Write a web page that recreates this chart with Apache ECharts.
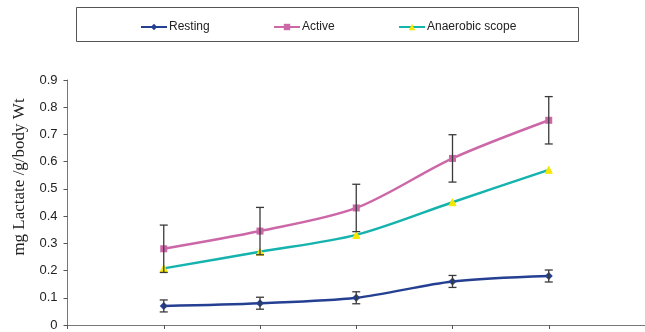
<!DOCTYPE html>
<html><head><meta charset="utf-8">
<script src="https://cdn.jsdelivr.net/npm/echarts@6/dist/echarts.min.js"></script>
<style>html,body{margin:0;padding:0;background:#fff}#c{width:645px;height:332px}</style>
</head><body><div id="c"></div>
<script>
var xPos = [1, 2, 3, 4, 5];
var resting = [0.07, 0.08, 0.10, 0.16, 0.18];
var restingErr = [0.022, 0.022, 0.022, 0.022, 0.022];
var active = [0.28, 0.345, 0.43, 0.612, 0.752];
var activeErr = [0.087, 0.087, 0.087, 0.087, 0.087];
var anaerobic = [0.208, 0.269, 0.331, 0.451, 0.57];
var yTicks = [0, 0.1, 0.2, 0.3, 0.4, 0.5, 0.6, 0.7, 0.8, 0.9];
var seriesNames = ['Resting', 'Active', 'Anaerobic scope'];
var yTitle = 'mg Lactate /g/body Wt';

function pairs(v){ return v.map(function(y,i){ return [xPos[i], y]; }); }
function errData(v,e){ return v.map(function(y,i){ return [xPos[i], y-e[i], y+e[i]]; }); }

function errRender(params, api){
  var x = api.value(0);
  var lo = api.coord([x, api.value(1)]);
  var hi = api.coord([x, api.value(2)]);
  var hw = 4;
  var st = {stroke:'#3a3a3a', lineWidth:1.3};
  return {type:'group', children:[
    {type:'line', shape:{x1:lo[0],y1:lo[1],x2:hi[0],y2:hi[1]}, style:st},
    {type:'line', shape:{x1:lo[0]-hw,y1:lo[1],x2:lo[0]+hw,y2:lo[1]}, style:st},
    {type:'line', shape:{x1:hi[0]-hw,y1:hi[1],x2:hi[0]+hw,y2:hi[1]}, style:st}
  ]};
}
function mkLegend(name, left){
  return {left:left, top:16, itemWidth:26, itemHeight:8,
    textStyle:{fontSize:12, color:'#222', padding:[0,0,0,-3]}, data:[name]};
}

var chart = echarts.init(document.getElementById('c'), null, {renderer:'canvas'});
chart.setOption({
  animation:false,
  textStyle:{fontFamily:'Liberation Sans, Arial, sans-serif'},
  graphic:[
    {type:'rect', shape:{x:76.5,y:7.5,width:502,height:34}, style:{fill:'none', stroke:'#555', lineWidth:1}, z:0},
    {type:'text', x:20, y:177, rotation:Math.PI/2,
      style:{text:yTitle, font:'17px "Liberation Serif", "Times New Roman", serif', fill:'#222', textAlign:'center', textVerticalAlign:'middle'}}
  ],
  legend:[mkLegend(seriesNames[0],135), mkLegend(seriesNames[1],268), mkLegend(seriesNames[2],393)],
  grid:{left:67.5, top:80, width:578, bottom:7, containLabel:false},
  xAxis:{type:'value', min:0, max:6, interval:1,
    axisLine:{lineStyle:{color:'#777', width:1}},
    axisTick:{show:true, length:4, lineStyle:{color:'#555'}},
    axisLabel:{show:false}, splitLine:{show:false}},
  yAxis:{type:'value', min:0, max:0.9, interval:0.1,
    axisLine:{show:true, lineStyle:{color:'#777', width:1}},
    axisTick:{show:true, length:4, lineStyle:{color:'#555'}},
    axisLabel:{fontSize:13, color:'#222', margin:10, formatter:function(v){ var t = yTicks.find(function(k){return Math.abs(k-v)<1e-9;}); return t===0?'0':String(t); }},
    splitLine:{show:false}},
  series:[
    {name:seriesNames[2], type:'line', smooth:0.3, data:pairs(anaerobic), symbol:'triangle', symbolSize:7,
      lineStyle:{color:'#15b3ad', width:2.5}, itemStyle:{color:'#f5e800', borderColor:'#f5e800'}, color:'#15b3ad', z:3},
    {name:seriesNames[1], type:'line', smooth:0.3, data:pairs(active), symbol:'rect', symbolSize:7,
      lineStyle:{color:'#cc67a8', width:2.5}, itemStyle:{color:'#cc67a8'}, color:'#cc67a8', z:3},
    {name:seriesNames[0], type:'line', smooth:0.3, data:pairs(resting), symbol:'diamond', symbolSize:8,
      lineStyle:{color:'#253f92', width:2.5}, itemStyle:{color:'#253f92'}, color:'#253f92', z:3},
    {type:'custom', renderItem:errRender, data:errData(active, activeErr), z:4, encode:{x:0,y:[1,2]}},
    {type:'custom', renderItem:errRender, data:errData(resting, restingErr), z:4, encode:{x:0,y:[1,2]}}
  ]
});
</script></body></html>
